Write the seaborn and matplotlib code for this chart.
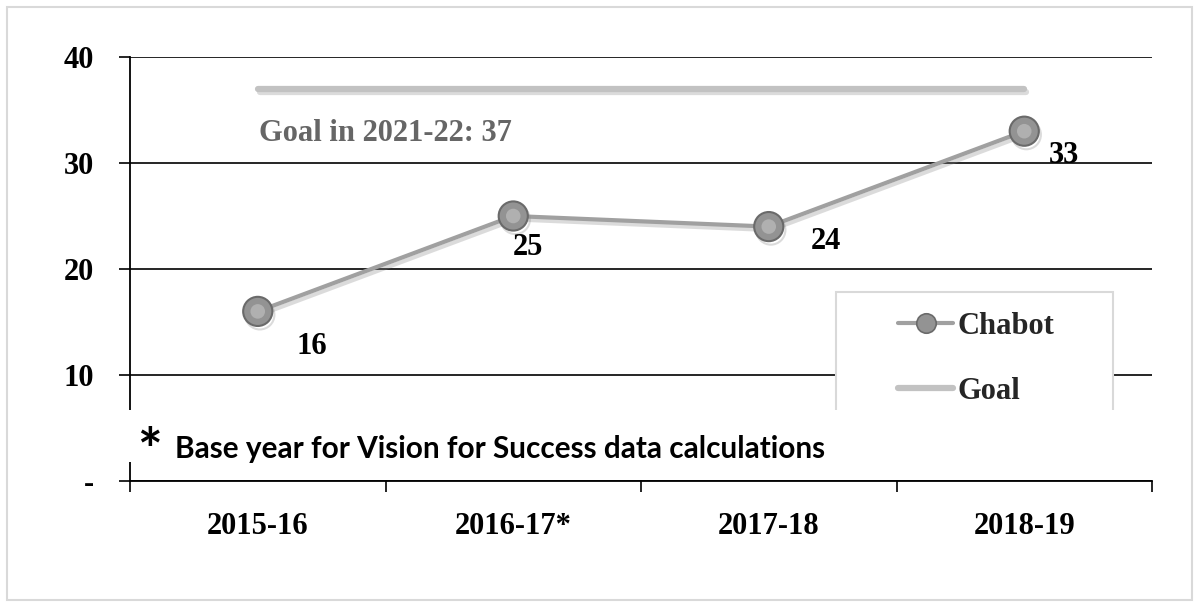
import matplotlib
matplotlib.use("Agg")
import matplotlib.pyplot as plt
import seaborn as sns
import pandas as pd
from matplotlib import patheffects as pe
from matplotlib.patches import Rectangle
from matplotlib.lines import Line2D

# ---- data ----
years = ["2015-16", "2016-17*", "2017-18", "2018-19"]
chabot = [16, 25, 24, 33]
goal = [37, 37, 37, 37]
yticks = [0, 10, 20, 30, 40]
ytick_labels = ["-", "10", "20", "30", "40"]
goal_label = "Goal in 2021-22: 37"
footnote = "Base year for Vision for Success data calculations"

# label offsets in pixels (right, down) -- styling only
label_offsets = [(54, 35), (15, 32), (57, 15), (40, 24)]

sns.set_theme(style="white")
plt.rcParams['font.family'] = ['Liberation Serif', 'DejaVu Serif']
plt.rcParams['font.weight'] = 'bold'

W, H = 1199, 607
fig = plt.figure(figsize=(W / 100, H / 100), dpi=100)
fig.patch.set_facecolor("white")
ax = fig.add_axes([130 / W, 1 - 481 / H, (1152 - 130) / W, (481 - 57) / H])
ax.set_facecolor("white")

df = pd.DataFrame({"Year": years, "Chabot": chabot, "Goal": goal})

shadow = [pe.SimpleLineShadow(offset=(1.5, -2.5), shadow_color="#8a8a8a", alpha=0.3), pe.Normal()]

sns.lineplot(data=df, x="Year", y="Goal", ax=ax, color="#c2c2c2", lw=4.5,
             sort=False, path_effects=shadow, zorder=3)
sns.lineplot(data=df, x="Year", y="Chabot", ax=ax, color="#a0a0a0", lw=3,
             sort=False, marker="o", markersize=21, markerfacecolor="#939393",
             markeredgecolor="#6a6a6a", markeredgewidth=1.5,
             path_effects=shadow, zorder=4)
sns.scatterplot(data=df, x="Year", y="Chabot", ax=ax, s=110, color="#b0b0b0",
                edgecolor="none", zorder=5, legend=False)

ax.set_xlim(-0.5, 3.5)
ax.set_ylim(0, 40)
ax.set_xlabel("")
ax.set_ylabel("")

# y axis
ax.set_yticks(yticks, ytick_labels)
ax.tick_params(axis="y", which="major", left=True, direction="out", length=8, width=1.2,
               color="black", pad=18, labelsize=22)
ax.yaxis.grid(True, color="black", lw=1.2)
ax.xaxis.grid(False)

# x axis: ticks at boundaries, labels at category centers
ax.set_xticks([-0.5, 0.5, 1.5, 2.5, 3.5], [""] * 5)
ax.set_xticks(range(len(years)), years, minor=True)
ax.tick_params(axis="x", which="major", bottom=True, direction="out", length=8, width=1.2,
               color="black")
ax.tick_params(axis="x", which="minor", bottom=True, length=0, pad=22, labelsize=22)
for lab in ax.get_xticklabels(minor=True) + ax.get_yticklabels():
    lab.set_fontweight("bold")
    lab.set_color("black")

for s in ["top", "right"]:
    ax.spines[s].set_visible(False)
for s in ["left", "bottom"]:
    ax.spines[s].set_color("black")
    ax.spines[s].set_linewidth(1.3)

# data labels
for i, (v, (dx, dy)) in enumerate(zip(chabot, label_offsets)):
    ax.annotate(str(v), (i, v), xytext=(dx * 0.72, -dy * 0.72),
                textcoords="offset points", ha="center", va="center",
                fontsize=22, fontweight="bold", color="black", zorder=6)

# goal label
ax.text(0.5, 32.8, goal_label, ha="center", va="center", fontsize=22,
        fontweight="bold", color="#666666", zorder=6)

# legend box (manual frame)
fig.add_artist(Rectangle((836 / W, 1 - 430 / H), 277 / W, 138 / H,
                         transform=fig.transFigure, facecolor="white",
                         edgecolor="#d9d9d9", lw=1.5, zorder=4))
handles = [
    Line2D([], [], color="#a0a0a0", lw=3, marker="o", markersize=14,
           markerfacecolor="#939393", markeredgecolor="#6a6a6a", markeredgewidth=1.2),
    Line2D([], [], color="#c2c2c2", lw=4.5),
]
leg = fig.legend(handles, ["Chabot", "Goal"], loc="upper left",
                 bbox_to_anchor=(898 / W, 1 - 312 / H), frameon=False,
                 fontsize=22, handlelength=1.8, handletextpad=0.15,
                 labelspacing=1.17, borderpad=0, borderaxespad=0)
leg.set_zorder(5)
for t in leg.get_texts():
    t.set_fontweight("bold")

# footnote band covering the lower part
fig.add_artist(Rectangle((124 / W, 1 - 462 / H), (1160 - 124) / W, 52 / H,
                         transform=fig.transFigure, facecolor="white",
                         edgecolor="none", zorder=6))
fig.text(149 / W, 1 - 453 / H, "*", ha="center", va="center", fontsize=42,
         family="Lato", fontweight="bold", color="black", zorder=7)
ft = fig.text(175 / W, 1 - 449 / H, footnote, ha="left", va="center",
              fontsize=19, family="Lato", fontweight="bold", color="black", zorder=7)
fig.canvas.draw()
w = ft.get_window_extent().width
ft.set_fontsize(19 * 650 / w)

# outer border
fig.add_artist(Rectangle((7 / W, 7 / H), 1185 / W, 593 / H, transform=fig.transFigure,
                         fill=False, edgecolor="#d9d9d9", lw=1.5, zorder=8))

fig.savefig("out.png", dpi=100)
